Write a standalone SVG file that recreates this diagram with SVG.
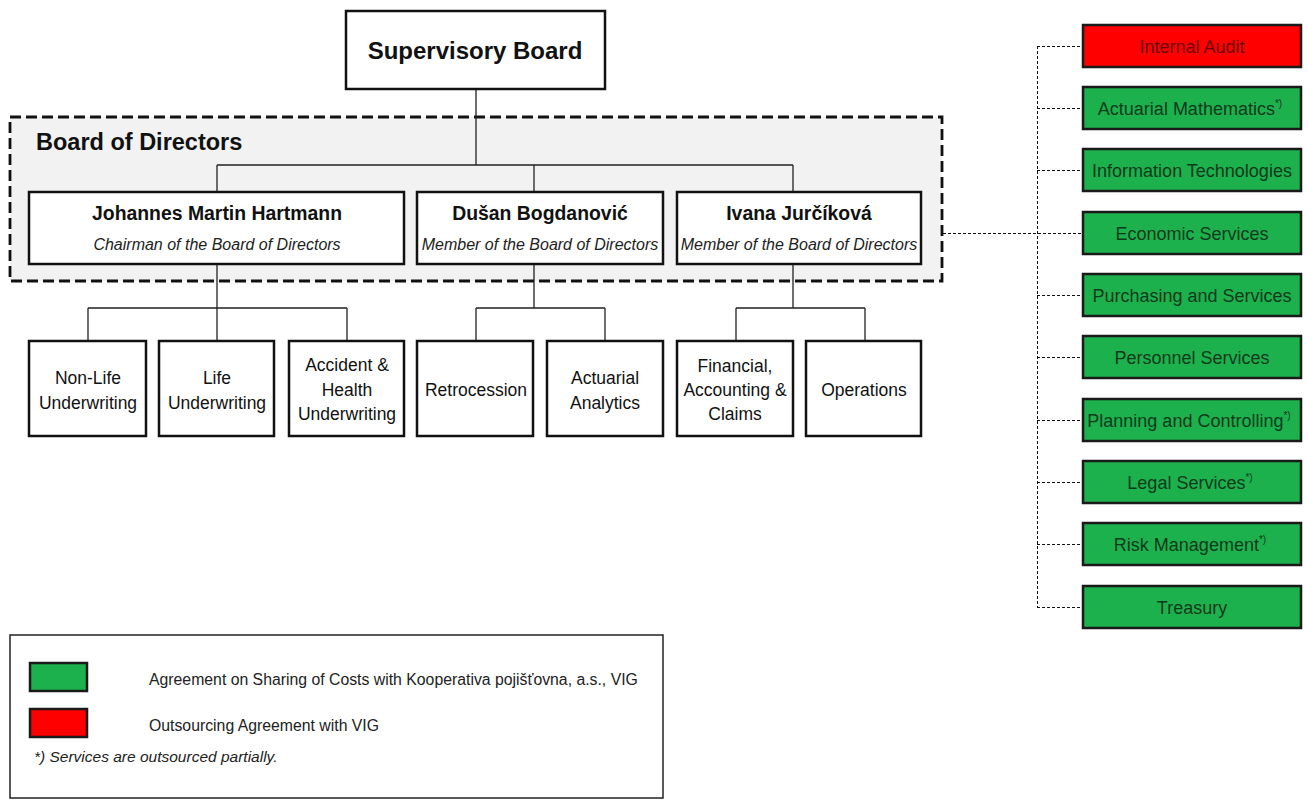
<svg xmlns="http://www.w3.org/2000/svg" width="1308" height="800" viewBox="0 0 1308 800">
<style>
.box{fill:#fff;stroke:#111;stroke-width:2.5}
.g{fill:#1db14e;stroke:#1a1a1a;stroke-width:2.5}
.r{fill:#ff0000;stroke:#1a1a1a;stroke-width:2.5}
.ln{stroke:#222;stroke-width:1.3;fill:none}
.dl{stroke:#111;stroke-width:1;fill:none;stroke-dasharray:3 2}
text{font-family:"Liberation Sans",Arial,sans-serif}
.bt{font-weight:bold;fill:#111}
.it{font-style:italic;fill:#222}
.st{font-size:17.5px;fill:#111;text-anchor:middle}
.gt{font-size:18px;fill:#0d3a1a;text-anchor:middle}
.rt{font-size:18px;fill:#6a0000;text-anchor:middle}
.sup{font-size:10px}
</style>
<rect x="0" y="0" width="1308" height="800" fill="#fff"/>
<rect id="board-area" x="10" y="117" width="932" height="164" fill="#f2f2f2" stroke="#111" stroke-width="2.8" stroke-dasharray="11 5"/>
<text x="36" y="150" class="bt" font-size="23.5">Board of Directors</text>
<g id="connectors">
<path class="ln" d="M476 89V165M217 165H793M217 165V192M534 165V192M793 165V192"/>
<path class="ln" d="M217 264V308M88 308H347M88 308V341M217 308V341M347 308V341"/>
<path class="ln" d="M534 264V308M476 308H605M476 308V341M605 308V341"/>
<path class="ln" d="M793 264V308M736 308H865M736 308V341M865 308V341"/>
<path class="dl" d="M943 233.5H1083M1037.5 46V607M1037 46.5H1083M1037 108.5H1083M1037 170.5H1083M1037 295.5H1083M1037 357.5H1083M1037 420.5H1083M1037 482.5H1083M1037 544.5H1083M1037 607.5H1083"/>
</g>
<g id="supervisory-board"><rect class="box" x="346" y="11" width="259" height="78"/><text x="475" y="59" class="bt" font-size="24" text-anchor="middle">Supervisory Board</text></g>
<g id="hartmann"><rect class="box" x="29" y="192" width="375" height="72"/><text x="217" y="220" class="bt" font-size="19.4" text-anchor="middle">Johannes Martin Hartmann</text><text x="217" y="250" class="it" font-size="16" text-anchor="middle">Chairman of the Board of Directors</text></g>
<g id="bogdanovic"><rect class="box" x="417" y="192" width="246" height="72"/><text x="540" y="220" class="bt" font-size="19.4" text-anchor="middle">Dušan Bogdanović</text><text x="540" y="250" class="it" font-size="16" text-anchor="middle">Member of the Board of Directors</text></g>
<g id="jurcikova"><rect class="box" x="677" y="192" width="244" height="72"/><text x="799" y="220" class="bt" font-size="19.4" text-anchor="middle">Ivana Jurčíková</text><text x="799" y="250" class="it" font-size="16" text-anchor="middle">Member of the Board of Directors</text></g>
<g id="nonlife"><rect class="box" x="29" y="341" width="117" height="95"/><text class="st" x="88" y="384">Non-Life</text><text class="st" x="88" y="409">Underwriting</text></g>
<g id="life"><rect class="box" x="159" y="341" width="115" height="95"/><text class="st" x="217" y="384">Life</text><text class="st" x="217" y="409">Underwriting</text></g>
<g id="accident"><rect class="box" x="289" y="341" width="115" height="95"/><text class="st" x="347" y="371">Accident &amp;</text><text class="st" x="347" y="396">Health</text><text class="st" x="347" y="420">Underwriting</text></g>
<g id="retrocession"><rect class="box" x="417" y="341" width="116" height="95"/><text class="st" x="476" y="396">Retrocession</text></g>
<g id="actuarial-analytics"><rect class="box" x="547" y="341" width="116" height="95"/><text class="st" x="605" y="384">Actuarial</text><text class="st" x="605" y="409">Analytics</text></g>
<g id="financial"><rect class="box" x="677" y="341" width="116" height="95"/><text class="st" x="735" y="372">Financial,</text><text class="st" x="735" y="396">Accounting &amp;</text><text class="st" x="735" y="420">Claims</text></g>
<g id="operations"><rect class="box" x="806" y="341" width="115" height="95"/><text class="st" x="864" y="396">Operations</text></g>
<g id="internal-audit"><rect class="r" x="1083" y="25" width="218" height="42"/><text class="rt" x="1192" y="53">Internal Audit</text></g>
<g id="actuarial-math"><rect class="g" x="1083" y="87" width="218" height="42"/><text class="gt" x="1190" y="115">Actuarial Mathematics<tspan class="sup" dy="-8">*)</tspan></text></g>
<g id="it"><rect class="g" x="1083" y="149" width="218" height="42"/><text class="gt" x="1192" y="177">Information Technologies</text></g>
<g id="economic"><rect class="g" x="1083" y="212" width="218" height="42"/><text class="gt" x="1192" y="240">Economic Services</text></g>
<g id="purchasing"><rect class="g" x="1083" y="274" width="218" height="42"/><text class="gt" x="1192" y="302">Purchasing and Services</text></g>
<g id="personnel"><rect class="g" x="1083" y="336" width="218" height="42"/><text class="gt" x="1192" y="364">Personnel Services</text></g>
<g id="planning"><rect class="g" x="1083" y="399" width="218" height="42"/><text class="gt" x="1189" y="427">Planning and Controlling<tspan class="sup" dy="-8">*)</tspan></text></g>
<g id="legal"><rect class="g" x="1083" y="461" width="218" height="42"/><text class="gt" x="1190" y="489">Legal Services<tspan class="sup" dy="-8">*)</tspan></text></g>
<g id="risk"><rect class="g" x="1083" y="523" width="218" height="42"/><text class="gt" x="1190" y="551">Risk Management<tspan class="sup" dy="-8">*)</tspan></text></g>
<g id="treasury"><rect class="g" x="1083" y="586" width="218" height="42"/><text class="gt" x="1192" y="614">Treasury</text></g>
<g id="legend">
<rect x="10" y="635" width="653" height="163" fill="#fff" stroke="#222" stroke-width="1.5"/>
<rect class="g" x="30" y="663" width="57" height="28"/>
<rect class="r" x="30" y="709" width="57" height="28"/>
<text x="149" y="685" font-size="15.8" fill="#222">Agreement on Sharing of Costs with Kooperativa pojišťovna, a.s., VIG</text>
<text x="149" y="731" font-size="15.8" fill="#222">Outsourcing Agreement with VIG</text>
<text x="34" y="762" class="it" font-size="15.5">*) Services are outsourced partially.</text>
</g>
</svg>
